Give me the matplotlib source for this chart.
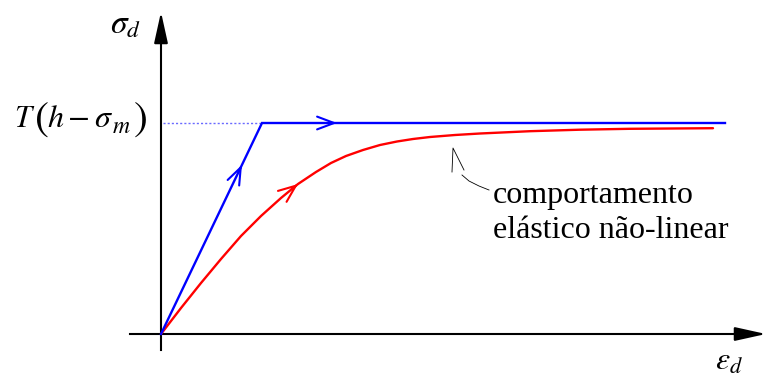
import matplotlib
matplotlib.use("Agg")
import matplotlib.pyplot as plt

plt.rcParams['mathtext.fontset'] = 'stix'
plt.rcParams['font.family'] = ['Liberation Serif', 'DejaVu Serif']

# data (units: pixel offsets from origin)
blue_x = [0, 101, 564]
blue_y = [0, 211, 211]
dot_x = [2, 101]
dot_y = [211, 211]
red_x = [0, 20, 40, 60, 80, 100, 120, 137, 155, 170, 185, 202, 219, 236, 252, 269, 294, 319, 369, 419, 469, 552]
red_y = [0, 26, 51, 75, 98, 118, 136, 150, 162, 171, 178, 184, 189, 192.5, 195, 197, 199, 200.5, 202.8, 204.3, 205.2, 205.8]

label_y = r"$\sigma_d$"
label_x = r"$\varepsilon_d$"
note_1 = "comportamento"
note_2 = "elástico não-linear"

fig = plt.figure(figsize=(7.66, 3.78), dpi=100)
ax = fig.add_axes([0, 0, 1, 1])
ax.set_xlim(-161, 605)
ax.set_ylim(-44, 334)
ax.axis('off')

# axes
ax.plot([-31, 585], [0, 0], color='black', lw=1.5)
ax.plot([0, 0], [-16, 300], color='black', lw=1.5)
ax.annotate('', xy=(605, 0), xytext=(575, 0),
            arrowprops=dict(arrowstyle='-|>,head_length=0.95,head_width=0.21',
                            color='black', lw=1.5, mutation_scale=20, shrinkA=0, shrinkB=0))
ax.annotate('', xy=(0, 322), xytext=(0, 292),
            arrowprops=dict(arrowstyle='-|>,head_length=0.95,head_width=0.21',
                            color='black', lw=1.5, mutation_scale=20, shrinkA=0, shrinkB=0))

# curves
ax.plot(dot_x, dot_y, color='#6a6aff', lw=1.0, ls=(0, (1.5, 1.5)))
ax.plot(red_x, red_y, color='red', lw=1.7, solid_capstyle='round', solid_joinstyle='round')
ax.plot(blue_x, blue_y, color='blue', lw=1.7, solid_joinstyle='miter')

# direction arrowheads (open chevrons)
def chevron(tip, dx, dy, color, hl=0.61, hw=0.23):
    n = (dx ** 2 + dy ** 2) ** 0.5
    ax.annotate('', xy=tip, xytext=(tip[0] - 8 * dx / n, tip[1] - 8 * dy / n),
                arrowprops=dict(arrowstyle=f'->,head_length={hl},head_width={hw}',
                                color=color, lw=1.5, mutation_scale=20,
                                shrinkA=0, shrinkB=0))

chevron((81, 81 * blue_y[1] / blue_x[1]), blue_x[1], blue_y[1], 'blue')
chevron((176, 211), 1, 0, 'blue')
chevron((137, 150), 14, 11, 'red', hl=0.62, hw=0.25)

# labels
ax.text(-51, 301, label_y, fontsize=24, ha='left', va='baseline')
ax.text(554, -36, label_x, fontsize=23, ha='left', va='baseline')

# T(h - sigma_m) with tall parentheses
ax.text(-147, 207, r"$T$", fontsize=22, ha='left', va='baseline')
ax.text(-127, 204, r"$($", fontsize=30, ha='left', va='baseline')
ax.text(-114, 207, r"$h-\sigma$", fontsize=23, ha='left', va='baseline')
ax.text(-49, 201, r"$m$", fontsize=17, ha='left', va='baseline')
ax.text(-28, 204, r"$)$", fontsize=30, ha='left', va='baseline')

ax.text(332, 131, note_1, fontsize=23, ha='left', va='baseline')
ax.text(332, 96, note_2, fontsize=23, ha='left', va='baseline')

# leader line
ax.plot([291, 292, 303], [162, 186, 164], color='black', lw=0.6)
ax.plot([301, 308, 318, 328], [159, 153, 148, 144], color='black', lw=0.6)

fig.savefig('out.png', dpi=100)
